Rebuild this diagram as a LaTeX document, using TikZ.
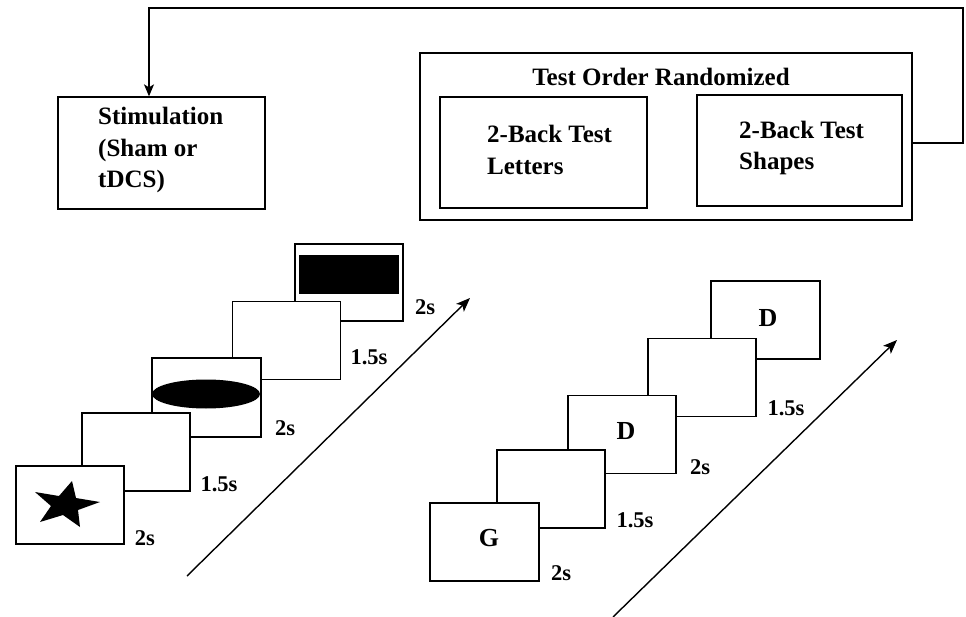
\documentclass[tikz,border=0pt]{standalone}
\usepackage{fontspec}
\setmainfont{Liberation Serif}
\usetikzlibrary{arrows.meta}
\begin{document}
\begin{tikzpicture}[x=1pt,y=-1pt,
  frame/.style={draw, line width=1.3pt, fill=white, inner sep=0pt},
  card/.style={draw, line width=1.2pt, fill=white, minimum width=108pt, minimum height=78pt, inner sep=0pt},
  lbl/.style={font=\fontsize{25}{31.5}\selectfont\bfseries, inner sep=0pt, align=left},
  tlbl/.style={font=\fontsize{22.5}{26}\selectfont\bfseries, inner sep=0pt},
  ltr/.style={font=\fontsize{26}{28}\selectfont\bfseries, inner sep=0pt},
  arr/.style={line width=1.4pt, -{Stealth[length=14pt,width=11pt,inset=3.5pt]}}]
\useasboundingbox (0,0) rectangle (966,617);

% ---- top section ----
\node[frame, minimum width=207pt, minimum height=112pt] (stim) at (161.5,153) {};
\node[lbl, anchor=west] (stimtxt) at (98,150) {Stimulation\\(Sham or\\tDCS)};

\node[frame, minimum width=492pt, minimum height=167pt] (outer) at (666,136.5) {};
\node[lbl, anchor=center] (order) at (661,77) {Test Order Randomized};
\node[frame, minimum width=207pt, minimum height=111pt] (letters) at (543.5,152.5) {};
\node[lbl, anchor=west] (lettxt) at (487,150) {2-Back Test\\Letters};
\node[frame, minimum width=205pt, minimum height=111pt] (shapes) at (799.5,150.5) {};
\node[lbl, anchor=west] (shptxt) at (739,148) {2-Back Test\\Shapes};

\coordinate (fbcorner) at (963,8);
\draw[line width=1.3pt, -{Stealth[length=12pt,width=10pt,inset=3pt]}]
  ([yshift=-6.5pt]outer.east) -| (fbcorner) -| ([xshift=-12.5pt]stim.north);

% ---- left panel (shapes) ----
\node[card, minimum height=77pt] (l5) at (349,282.5) {};
\fill (299,255) rectangle (399,294);
\node[card] (l4) at (286.5,340.5) {};
\node[card, minimum width=109pt, minimum height=79pt] (l3) at (206.5,397.5) {};
\fill (206,394) ellipse [x radius=54pt, y radius=14.5pt];
\node[card] (l2) at (136,452) {};
\node[card] (l1) at (70,505) {};
\fill (72,481) -- (76,498) -- (100,502) -- (78,510) -- (80,527)
  -- (63,515) -- (40,522) -- (51,506) -- (35,492) -- (59,496) -- cycle;

\node[tlbl] (lt5) at (425,307) {2s};
\node[tlbl] (lt4) at (369,357) {1.5s};
\node[tlbl] (lt3) at (285,428) {2s};
\node[tlbl] (lt2) at (219,484) {1.5s};
\node[tlbl] (lt1) at (145,538) {2s};

\coordinate (la) at (187,576);
\coordinate (lb) at (470,298);
\draw[arr] (la) -- (lb);

% ---- right panel (letters) ----
\node[card, minimum width=109pt] (r5) at (765.5,320) {};
\node[ltr] (d2) at (768,318) {D};
\node[card] (r4) at (702,377.5) {};
\node[card] (r3) at (622,434.5) {};
\node[ltr] (d1) at (626,431) {D};
\node[card] (r2) at (551,489) {};
\node[card, minimum width=109pt] (r1) at (484.5,542) {};
\node[ltr] (g1) at (489,538) {G};

\node[tlbl] (rt4) at (786,408) {1.5s};
\node[tlbl] (rt3) at (700,467) {2s};
\node[tlbl] (rt2) at (635,520) {1.5s};
\node[tlbl] (rt1) at (561,573) {2s};

\coordinate (ra) at (613,617);
\coordinate (rb) at (897,340);
\draw[arr] (ra) -- (rb);
\end{tikzpicture}
\end{document}
